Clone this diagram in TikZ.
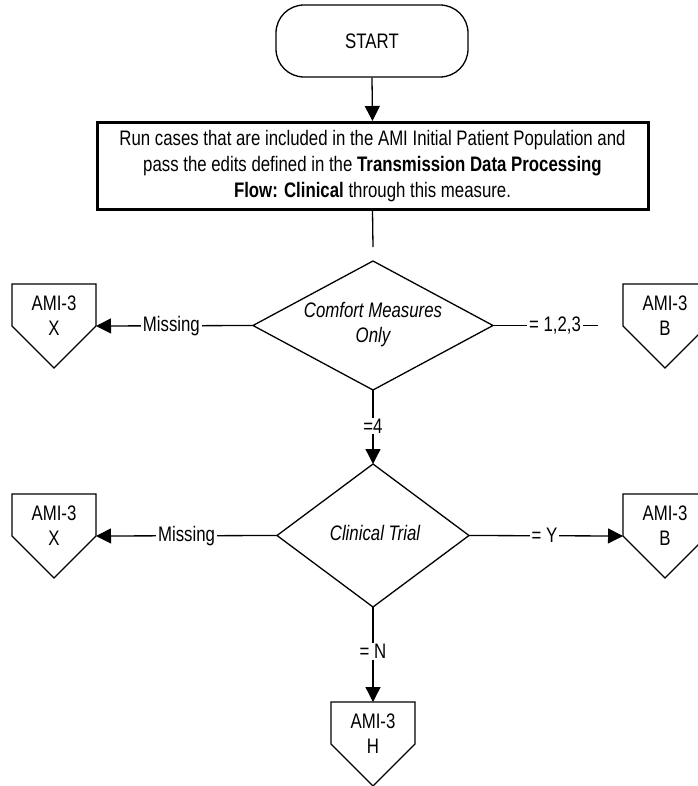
\documentclass[tikz,border=0pt]{standalone}
\usepackage{fontspec}
\setmainfont{Liberation Sans}[FakeStretch=0.8]
\usetikzlibrary{arrows.meta,shapes.geometric}
\begin{document}
\begin{tikzpicture}[x=1pt,y=-1pt,
  every node/.style={font=\fontsize{21}{26}\selectfont},
  conn/.style={line width=1.3pt},
  arr/.style={conn,-{Triangle[length=15pt,width=15pt]}},
  terminal/.style={draw,line width=1.3pt,rounded corners=28pt,minimum width=192pt,minimum height=72pt,inner sep=0pt},
  process/.style={draw,line width=3pt,minimum width=551pt,minimum height=87pt,align=center,inner sep=0pt},
  decision/.style={draw,diamond,line width=1.3pt,inner sep=0pt,outer sep=0pt},
  dtext/.style={align=center,font=\fontsize{21}{25}\selectfont\itshape},
  offpage/.style={minimum width=84pt,minimum height=84pt,inner sep=0pt,outer sep=0pt},
  ptext/.style={align=center,font=\fontsize{21}{25}\selectfont},
  lbl/.style={fill=white,inner xsep=2pt,inner ysep=1pt}]

\useasboundingbox (0,0) rectangle (697,786);

% start terminal and the processing step
\node[terminal] (start) at (372,41) {START};
\node[process] (run) at (372.5,166) {Run cases that are included in the AMI Initial Patient Population and\\
  pass the edits defined in the \textbf{Transmission Data Processing}\\
  \textbf{Flow: Clinical} through this measure.};
\coordinate (runend) at (373,247);

% decisions
\node[decision,minimum width=240pt,minimum height=129pt] (cmo) at (373,325.5) {};
\node[dtext] (cmot) at (373,324.5) {Comfort Measures\\Only};
\node[decision,minimum width=192pt,minimum height=143pt] (ct) at (373,535.5) {};
\node[dtext] (ctt) at (375,533) {Clinical Trial};

% off-page connectors
\node[offpage] (x1) at (54,326) {};
\node[ptext] (x1t) at (54,316) {AMI-3\\X};
\node[offpage] (b1) at (665,326) {};
\node[ptext] (b1t) at (665,316) {AMI-3\\B};
\node[offpage] (x2) at (54,536) {};
\node[ptext] (x2t) at (54,526) {AMI-3\\X};
\node[offpage] (b2) at (665,536) {};
\node[ptext] (b2t) at (665,526) {AMI-3\\B};
\node[offpage] (h) at (373,744) {};
\node[ptext] (ht) at (373,734) {AMI-3\\H};
\foreach \n in {x1,b1,x2,b2,h}
  \draw[conn] (\n.north west) -- (\n.north east) -- (\n.east) -- (\n.south) -- (\n.west) -- cycle;

\coordinate (b1end) at (598,325.5);

% connectors
\draw[arr] (start.south) -- (run.north);
\draw[conn] (run.south) -- (runend);
\draw[arr] (cmo.west) -- node[lbl,pos=0.52] (l1) {Missing} (x1.east);
\draw[conn] (cmo.east) -- node[lbl,pos=0.59] (l2) {= 1,2,3} (b1end);
\draw[arr] (cmo.south) -- node[lbl,pos=0.49] (l3) {=4} (ct.north);
\draw[arr] (ct.west) -- node[lbl,pos=0.5] (l4) {Missing} (x2.east);
\draw[arr] (ct.east) -- node[lbl,pos=0.49] (l5) {= Y} (b2.west);
\draw[arr] (ct.south) -- node[lbl,pos=0.47] (l6) {= N} (h.north);
\end{tikzpicture}
\end{document}
